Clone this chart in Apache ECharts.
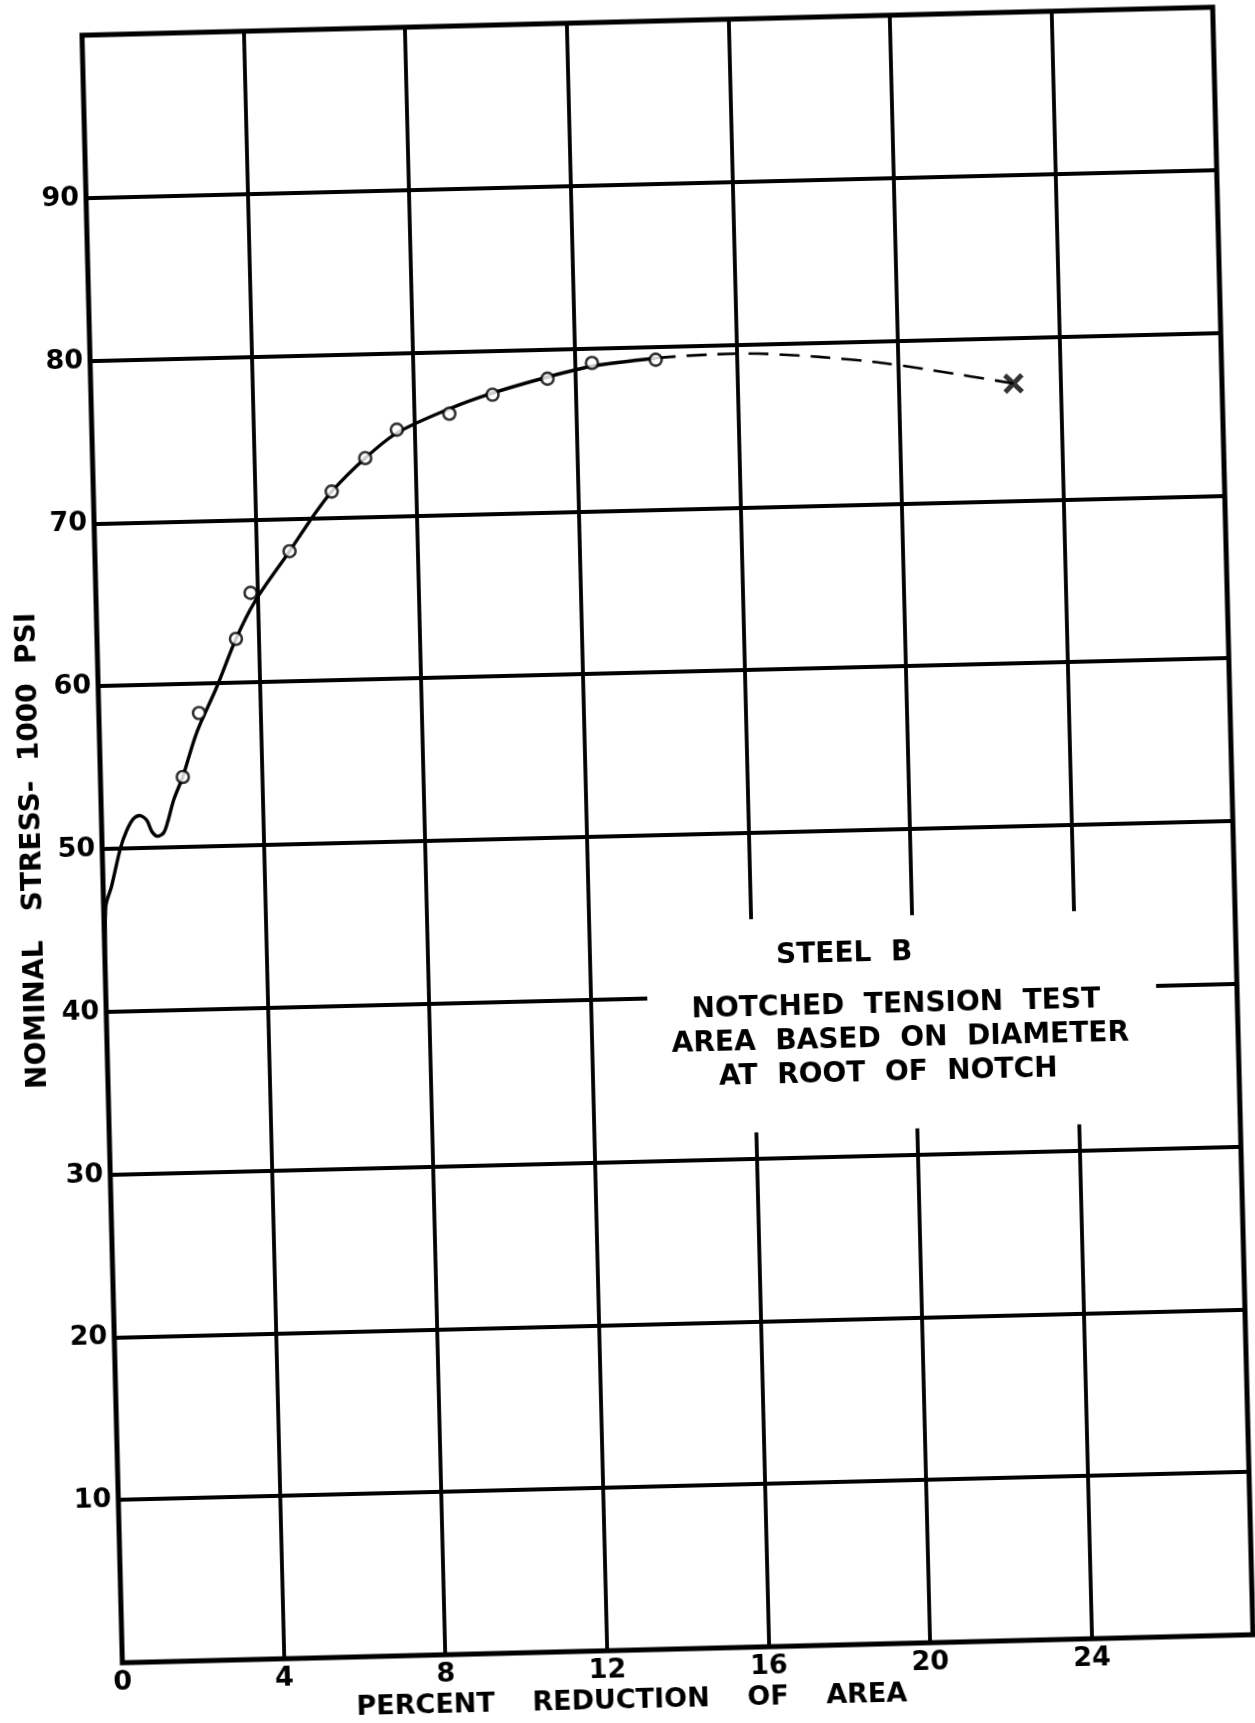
<!DOCTYPE html>
<html>
<head>
<meta charset="utf-8">
<title>Steel B - notched tension test</title>
<script src="https://cdn.jsdelivr.net/npm/echarts@6/dist/echarts.min.js"></script>
<style>
  html, body { margin: 0; padding: 0; background: #fff; }
  /* the scanned sheet sits a little crooked, so the whole chart is tilted */
  #chart {
    width: 1255px;
    height: 1723px;
    transform: rotate(-1.42deg);
    transform-origin: 667px 835px;
  }
</style>
</head>
<body>
<div id="chart"></div>
<script>
// percent reduction of area (x) / nominal stress, 1000 psi (y)
const xTicks = [0, 4, 8, 12, 16, 20, 24];
const yTicks = [10, 20, 30, 40, 50, 60, 70, 80, 90];

// faired curve, solid part
const curveX = [0, 0, 0.05, 0.21, 0.45, 0.62, 0.79, 0.94, 1.12, 1.24, 1.38, 1.53, 1.63, 1.80, 1.97, 2.04, 2.41, 2.94, 3.44, 3.94, 4.82, 5.39, 5.90, 6.75, 7.55, 8.86, 9.94, 11.31, 12.42, 14.0];
const curveY = [0, 40, 46.4, 47.7, 50.0, 51.1, 51.8, 52.0, 51.7, 51.0, 50.7, 50.9, 51.5, 52.9, 53.9, 54.3, 57.0, 59.8, 62.7, 65.0, 68.0, 70.0, 71.6, 73.6, 75.1, 76.5, 77.4, 78.3, 78.9, 79.3];

// measured points (open circles)
const pointsX = [2.04, 2.48, 3.44, 3.83, 4.82, 5.90, 6.75, 7.55, 8.86, 9.94, 11.31, 12.42, 14.0];
const pointsY = [54.3, 58.2, 62.7, 65.5, 68.0, 71.6, 73.6, 75.3, 76.2, 77.3, 78.2, 79.1, 79.2];

// dashed extension to fracture
const dashX = [14.0, 14.77, 16.0, 17.24, 18.88, 20.0, 21.35, 22.84];
const dashY = [79.3, 79.4, 79.45, 79.3, 78.9, 78.5, 77.9, 77.2];

// fracture (x mark)
const fractureX = [22.84];
const fractureY = [77.2];

const noteLines = ['STEEL  B', 'NOTCHED  TENSION  TEST', 'AREA  BASED  ON  DIAMETER', 'AT  ROOT  OF  NOTCH'];

// where the note sits (data units)
const noteBox = [[13.4, 31.6], [26.0, 44.7]];
const notePos = [[18.3, 42.4], [19.55, 39.2], [19.64, 37.1], [19.32, 35.0]];

const zip = (xs, ys) => xs.map((x, i) => [x, ys[i]]);

const FONT = '"DejaVu Sans", sans-serif';

const chart = echarts.init(document.getElementById('chart'), null, { renderer: 'canvas' });

const option = {
  backgroundColor: '#fff',
  animation: false,
  grid: {
    left: 102,
    top: 21,
    right: 22,
    bottom: 74,
    outerBoundsMode: 'none',
    show: true,
    borderColor: '#000',
    borderWidth: 5,
    backgroundColor: 'transparent'
  },
  xAxis: {
    type: 'value',
    min: 0,
    max: 28,
    interval: 4,
    name: 'PERCENT    REDUCTION    OF    AREA',
    nameLocation: 'middle',
    nameGap: 33,
    nameTextStyle: {
      color: '#000',
      fontFamily: FONT,
      fontWeight: 'bold',
      fontSize: 27,
      padding: [0, 114, 0, 0]
    },
    axisLine: { show: false },
    axisTick: { show: false },
    axisLabel: {
      color: '#000',
      fontFamily: FONT,
      fontWeight: 'bold',
      fontSize: 27,
      margin: 6,
      formatter: v => (xTicks.includes(v) ? String(v) : '')
    },
    splitLine: { show: true, lineStyle: { color: '#000', width: 3.8 } }
  },
  yAxis: {
    type: 'value',
    min: 0,
    max: 100,
    interval: 10,
    name: 'NOMINAL   STRESS-  1000  PSI',
    nameLocation: 'middle',
    nameGap: 30,
    nameTextStyle: {
      color: '#000',
      fontFamily: FONT,
      fontWeight: 'bold',
      fontSize: 28
    },
    axisLine: { show: false },
    axisTick: { show: false },
    axisLabel: {
      color: '#000',
      fontFamily: FONT,
      fontWeight: 'bold',
      fontSize: 27,
      margin: 7,
      formatter: v => (yTicks.includes(v) ? String(v) : '')
    },
    splitLine: { show: true, lineStyle: { color: '#000', width: 3.8 } }
  },
  series: [
    {
      name: 'curve',
      type: 'line',
      data: zip(curveX, curveY),
      smooth: 0.3,
      showSymbol: false,
      lineStyle: { color: '#000', width: 3.4 },
      z: 3,
      // blank patch in the grid for the note
      markArea: {
        silent: true,
        itemStyle: { color: '#fff' },
        data: [[{ coord: noteBox[0] }, { coord: noteBox[1] }]]
      }
    },
    {
      name: 'extension',
      type: 'line',
      data: zip(dashX, dashY),
      smooth: 0.4,
      showSymbol: false,
      lineStyle: { color: '#000', width: 2.6, type: [20, 11] },
      z: 3
    },
    {
      name: 'points',
      type: 'scatter',
      data: zip(pointsX, pointsY),
      symbol: 'circle',
      symbolSize: 12,
      itemStyle: { color: '#fff', borderColor: '#000', borderWidth: 2.6 },
      z: 5
    },
    {
      name: 'fracture',
      type: 'scatter',
      data: zip(fractureX, fractureY),
      symbol: 'path://M0,0L10,10M10,0L0,10',
      symbolSize: 17,
      itemStyle: { color: 'none', borderColor: '#000', borderWidth: 5 },
      z: 5
    }
  ]
};

chart.setOption(option);

// note text, placed in data units
chart.setOption({
  graphic: noteLines.map((t, i) => {
    const p = chart.convertToPixel({ gridIndex: 0 }, notePos[i]);
    return {
      type: 'text',
      x: p[0],
      y: p[1],
      z: 10,
      style: {
        text: t,
        align: 'center',
        verticalAlign: 'middle',
        font: 'bold 28px ' + FONT,
        fill: '#000'
      }
    };
  })
});
</script>
</body>
</html>
